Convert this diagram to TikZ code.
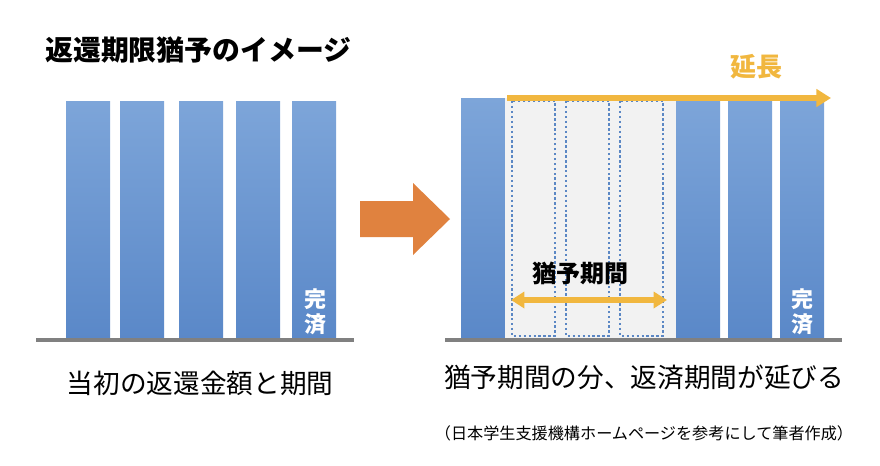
\documentclass[tikz,border=0pt]{standalone}
\usepackage{fontspec}
\setmainfont{Noto Sans CJK JP}
\usetikzlibrary{arrows.meta}

\definecolor{bartop}{HTML}{7DA5D9}
\definecolor{barbottom}{HTML}{5A88C8}
\definecolor{dotblue}{HTML}{5B87C4}
\definecolor{extyellow}{HTML}{F1B73F}
\definecolor{turnorange}{HTML}{E0823F}
\definecolor{groundgray}{HTML}{808080}
\definecolor{gracegray}{HTML}{F2F2F2}

\tikzset{
  bar/.style={top color=bartop, bottom color=barbottom},
  groundline/.style={draw=groundgray, line width=2.6pt},
  slot/.style={draw=dotblue, line width=1.8pt, dash pattern=on 1.8pt off 1.9pt},
  bigtext/.style={font=\fontsize{20}{22}\selectfont, inner sep=0pt},
  donetext/.style={font=\bfseries\fontsize{16.5}{19}\selectfont, text=white, align=center, inner sep=0pt},
}

\begin{document}
\begin{tikzpicture}[x=0.75pt, y=-0.75pt]
  \useasboundingbox (0,0) rectangle (880,465);

  \node[bigtext, font=\bfseries\fontsize{20.9}{22}\selectfont, anchor=west] (title) at (45,50) {返還期限猶予のイメージ};

  % left: original schedule
  \foreach \x in {66,120,179,236,292}
    \fill[bar] (\x,101) rectangle ++(44,238);
  \draw[groundline] (36,340) -- (354,340);
  \node[donetext] (doneL) at (315,312) {完\\済};
  \node[bigtext] (labelL) at (200,383) {当初の返還金額と期間};

  % turn arrow
  \fill[turnorange] (360,201) -- (413,201) -- (413,183) -- (450,219)
    -- (413,255) -- (413,237) -- (360,237) -- cycle;

  % right: deferred schedule
  \fill[bar] (461,98) rectangle (505,339);
  \fill[gracegray] (505,98) rectangle (676,339);
  \foreach \x in {512,566,620}
    \draw[slot] (\x,101) rectangle ++(43,235);
  \foreach \x in {676,728,780}
    \fill[bar] (\x,98) rectangle ++(44,241);
  \draw[groundline] (445,340) -- (842,340);

  \path (507,98) coordinate (extL) (831,98) coordinate (extR);
  \draw[extyellow, line width=4.5pt, -{Triangle[length=11pt, width=13pt]}] (extL) -- (extR);
  \node[bigtext, font=\bfseries\fontsize{19.5}{22}\selectfont, text=extyellow] (ext) at (756,67) {延長};

  \node[bigtext, font=\bfseries\fontsize{18}{22}\selectfont] (grace) at (580,273) {猶予期間};
  \path (511,300) coordinate (graceL) (667,300) coordinate (graceR);
  \draw[extyellow, line width=3.8pt, {Triangle[length=10pt, width=12pt]}-{Triangle[length=10pt, width=12pt]}] (graceL) -- (graceR);

  \node[donetext] (doneR) at (802,312) {完\\済};
  \node[bigtext] (labelR) at (644,377) {猶予期間の分、返済期間が延びる};
  \node[font=\fontsize{12.1}{14}\selectfont, inner sep=0pt] (source) at (644,433) {（日本学生支援機構ホームページを参考にして筆者作成）};
\end{tikzpicture}
\end{document}
